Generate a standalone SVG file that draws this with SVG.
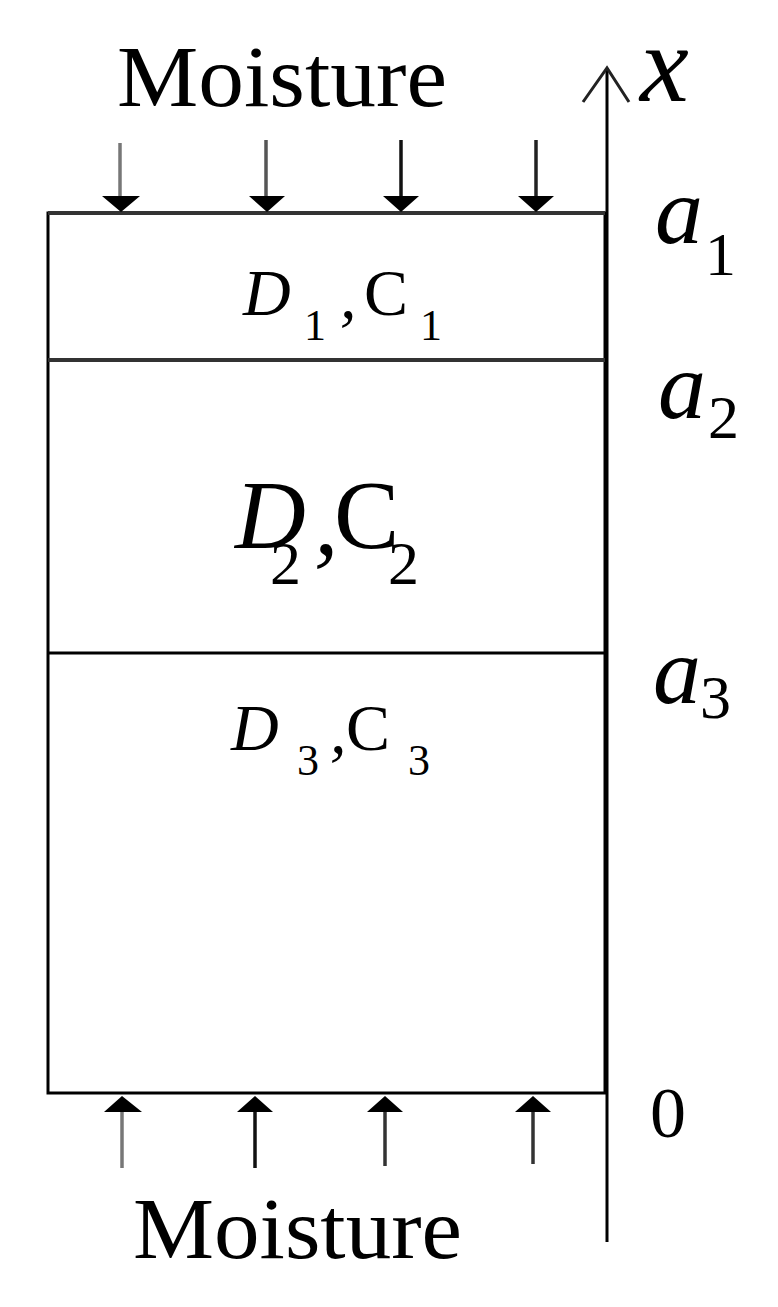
<svg xmlns="http://www.w3.org/2000/svg" width="778" height="1307" viewBox="0 0 778 1307">
<style>
text{font-family:"Liberation Serif","Times New Roman",Times,serif;fill:#000}
.i{font-family:"Liberation Serif","DejaVu Serif",serif;font-style:italic}
.ln{stroke:#000;stroke-width:3;fill:none}
.arr{stroke-width:3.5;fill:none}
</style>
<rect width="778" height="1307" fill="#fff"/>
<g id="layers">
<rect x="48" y="213" width="557" height="880" class="ln"/>
<line x1="48" y1="213" x2="605" y2="213" stroke="#333" stroke-width="4"/>
<line x1="48" y1="360" x2="605" y2="360" stroke="#333" stroke-width="4"/>
<line x1="48" y1="653" x2="605" y2="653" class="ln"/>
</g>
<g id="connectors">
<g id="axis">
<line x1="607" y1="68" x2="607" y2="1242" stroke="#000" stroke-width="3"/>
<polyline points="583,102 607,68 629,102" fill="none" stroke="#222" stroke-width="3"/>
</g>
<g id="top-arrows">
<line x1="120" y1="143" x2="120" y2="196" class="arr" stroke="#777"/>
<path d="M102,196 L140,196 L121,212 Z" fill="#000"/>
<line x1="266" y1="140" x2="266" y2="196" class="arr" stroke="#555"/>
<path d="M249,196 L285,196 L267,212 Z" fill="#000"/>
<line x1="401" y1="140" x2="401" y2="196" class="arr" stroke="#111"/>
<path d="M383,196 L419,196 L401,212 Z" fill="#000"/>
<line x1="536" y1="140" x2="536" y2="196" class="arr" stroke="#222"/>
<path d="M518,196 L554,196 L536,212 Z" fill="#000"/>
</g>
<g id="bottom-arrows">
<line x1="122" y1="1110" x2="122" y2="1168" class="arr" stroke="#777"/>
<path d="M104,1112 L142,1112 L122,1096 Z" fill="#000"/>
<line x1="255" y1="1110" x2="255" y2="1168" class="arr" stroke="#111"/>
<path d="M237,1112 L273,1112 L255,1096 Z" fill="#000"/>
<line x1="385" y1="1110" x2="385" y2="1166" class="arr" stroke="#333"/>
<path d="M367,1112 L403,1112 L385,1096 Z" fill="#000"/>
<line x1="533" y1="1110" x2="533" y2="1164" class="arr" stroke="#333"/>
<path d="M515,1112 L551,1112 L533,1096 Z" fill="#000"/>
</g>
</g>
<g id="label-moisture-top"><text x="117" y="106" font-size="86" textLength="330" lengthAdjust="spacingAndGlyphs">Moisture</text></g>
<g id="label-moisture-bottom"><text x="133" y="1258" font-size="86" textLength="329" lengthAdjust="spacingAndGlyphs">Moisture</text></g>
<g id="label-x"><text class="i" x="640" y="101" font-size="110">x</text></g>
<g id="label-a1"><text class="i" x="655" y="243" font-size="96">a</text><text x="705" y="275" font-size="62">1</text></g>
<g id="label-a2"><text class="i" x="658" y="418" font-size="96">a</text><text x="708" y="438" font-size="62">2</text></g>
<g id="label-a3"><text class="i" x="653" y="703" font-size="96">a</text><text x="700" y="718" font-size="62">3</text></g>
<g id="label-0"><text x="650" y="1137" font-size="72">0</text></g>
<g id="layer1-label"><text y="315" font-size="66"><tspan class="i" x="243">D</tspan><tspan x="304" y="340" font-size="44">1</tspan><tspan class="i" x="340" y="318">,</tspan><tspan x="364" y="315">C</tspan><tspan x="420" y="340" font-size="44">1</tspan></text></g>
<g id="layer2-label"><text y="548" font-size="98"><tspan class="i" x="235">D</tspan><tspan x="270" y="584" font-size="62">2</tspan><tspan class="i" x="314" y="554">,</tspan><tspan x="334" y="548">C</tspan><tspan x="388" y="584" font-size="62">2</tspan></text></g>
<g id="layer3-label"><text y="750" font-size="66"><tspan class="i" x="231">D</tspan><tspan x="297" y="775" font-size="44">3</tspan><tspan class="i" x="330" y="753">,</tspan><tspan x="346" y="750">C</tspan><tspan x="408" y="775" font-size="44">3</tspan></text></g>
</svg>
